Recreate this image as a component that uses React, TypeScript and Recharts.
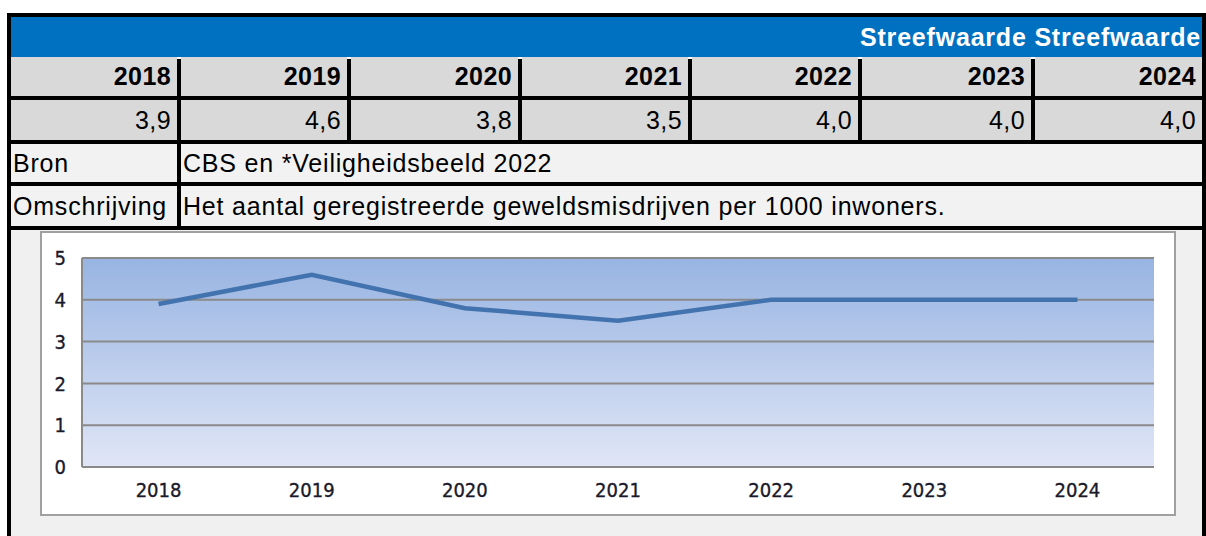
import React from "react";
import { CartesianGrid, Line, LineChart, XAxis, YAxis } from "recharts";

const years = ["2018", "2019", "2020", "2021", "2022", "2023", "2024"];
const values = [3.9, 4.6, 3.8, 3.5, 4.0, 4.0, 4.0];
const valueLabels = ["3,9", "4,6", "3,8", "3,5", "4,0", "4,0", "4,0"];
const yTicks = [0, 1, 2, 3, 4, 5];

const headerText = "Streefwaarde Streefwaarde";
const source = "CBS en *Veiligheidsbeeld 2022";
const description = "Het aantal geregistreerde geweldsmisdrijven per 1000 inwoners.";

const chartData = years.map((year, i) => ({ year, value: values[i] }));

// column separators (left edge) in page px
const SEP = [177, 347, 518, 688, 858, 1031];
const LEFT = 7;
const RIGHT = 1206;
const B = 4;
const FONT = "'Liberation Sans', Arial, sans-serif";
const TICK_FONT = "'DejaVu Sans Condensed', 'DejaVu Sans', sans-serif";
const tickStyle = { fill: "#1a1a2a", stroke: "#1a1a2a", strokeWidth: 0.35, fontSize: 20, fontFamily: TICK_FONT };

function Cell({ x0, x1, y0, y1, bg, align, bold, spacing, children }: any) {
  return (
    <div
      style={{
        position: "absolute",
        left: x0,
        top: y0,
        width: x1 - x0,
        height: y1 - y0,
        background: bg,
        display: "flex",
        alignItems: "center",
        justifyContent: align === "right" ? "flex-end" : "flex-start",
        boxSizing: "border-box",
        padding: align === "right" ? "0 6px 0 0" : "0 0 0 2px",
        fontFamily: FONT,
        fontSize: 25,
        fontWeight: bold ? 700 : 400,
        letterSpacing: spacing ?? 0.8,
        color: "#000",
        whiteSpace: "nowrap",
        overflow: "hidden",
      }}
    >
      {children}
    </div>
  );
}

function Black({ x, y, w, h }: any) {
  return <div style={{ position: "absolute", left: x, top: y, width: w, height: h, background: "#000" }} />;
}

export default function App() {
  const colEdges = [LEFT + B, ...SEP.map((s) => s + B)];
  const colEnds = [...SEP, RIGHT - B];

  return (
    <div style={{ position: "absolute", left: 0, top: 0, width: 1206, height: 536, background: "#fff", overflow: "hidden" }}>
      <svg width={0} height={0} style={{ position: "absolute" }}>
        <defs>
          <linearGradient id="plotGrad" x1="0" y1="0" x2="0" y2="1">
            <stop offset="0%" stopColor="#98b4e2" />
            <stop offset="100%" stopColor="#e0e6f6" />
          </linearGradient>
        </defs>
      </svg>

      {/* outer frame */}
      <Black x={LEFT} y={13} w={RIGHT - LEFT} h={B} />
      <Black x={LEFT} y={13} w={B} h={523} />
      <Black x={RIGHT - B} y={13} w={B} h={523} />

      {/* blue header */}
      <div
        style={{
          position: "absolute",
          left: LEFT + B,
          top: 17,
          width: RIGHT - LEFT - 2 * B,
          height: 40,
          background: "#0070c0",
          display: "flex",
          alignItems: "center",
          justifyContent: "flex-end",
          paddingRight: 1,
          boxSizing: "border-box",
          color: "#fff",
          fontFamily: FONT,
          fontSize: 25,
          fontWeight: 700,
          letterSpacing: 0.8,
        }}
      >
        {headerText}
      </div>

      {/* years row */}
      {years.map((y, i) => (
        <Cell key={y} x0={colEdges[i]} x1={colEnds[i]} y0={57} y1={96} bg="#d9d9d9" align="right" bold spacing={0.4}>
          {y}
        </Cell>
      ))}
      <Black x={LEFT} y={96} w={RIGHT - LEFT} h={B} />

      {/* values row */}
      {valueLabels.map((v, i) => (
        <Cell key={i} x0={colEdges[i]} x1={colEnds[i]} y0={100} y1={140} bg="#d9d9d9" align="right" spacing={0.4}>
          {v}
        </Cell>
      ))}
      <Black x={LEFT} y={140} w={RIGHT - LEFT} h={B} />
      {SEP.map((s) => (
        <Black key={s} x={s} y={59} w={B} h={81} />
      ))}

      {/* Bron */}
      <Cell x0={LEFT + B} x1={SEP[0]} y0={144} y1={182} bg="#f2f2f2">Bron</Cell>
      <Cell x0={SEP[0] + B} x1={RIGHT - B} y0={144} y1={182} bg="#f2f2f2">{source}</Cell>
      <Black x={LEFT} y={182} w={RIGHT - LEFT} h={B} />

      {/* Omschrijving */}
      <Cell x0={LEFT + B} x1={SEP[0]} y0={186} y1={226} bg="#f2f2f2">Omschrijving</Cell>
      <Cell x0={SEP[0] + B} x1={RIGHT - B} y0={186} y1={226} bg="#f2f2f2">{description}</Cell>
      <Black x={LEFT} y={226} w={RIGHT - LEFT} h={B} />
      <Black x={SEP[0]} y={144} w={B} h={82} />

      {/* chart region */}
      <div style={{ position: "absolute", left: LEFT + B, top: 230, width: RIGHT - LEFT - 2 * B, height: 306, background: "#f0f0f0" }} />
      <div
        style={{
          position: "absolute",
          left: 40,
          top: 231,
          width: 1136,
          height: 285,
          background: "#fff",
          border: "2px solid #a0a0a0",
          boxSizing: "border-box",
        }}
      >
        <LineChart
          width={1132}
          height={281}
          data={chartData}
          margin={{ top: 25, right: 20, left: 0, bottom: 0 }}
        >
          <CartesianGrid vertical={false} stroke="#8a8a8a" strokeWidth={2} fill="url(#plotGrad)" fillOpacity={1} />
          <XAxis
            dataKey="year"
            scale="band"
            height={47}
            tickLine={false}
            axisLine={{ stroke: "#8a8a8a", strokeWidth: 2 }}
            tick={tickStyle}
            tickMargin={10}
          />
          <YAxis
            domain={[0, 5]}
            ticks={yTicks}
            width={40}
            tickLine={false}
            axisLine={{ stroke: "#8a8a8a", strokeWidth: 2 }}
            tick={tickStyle}
            tickMargin={10}
          />
          <Line
            type="linear"
            dataKey="value"
            stroke="#4373ae"
            strokeWidth={4.5}
            dot={false}
            activeDot={false}
            isAnimationActive={false}
          />
        </LineChart>
      </div>
    </div>
  );
}
